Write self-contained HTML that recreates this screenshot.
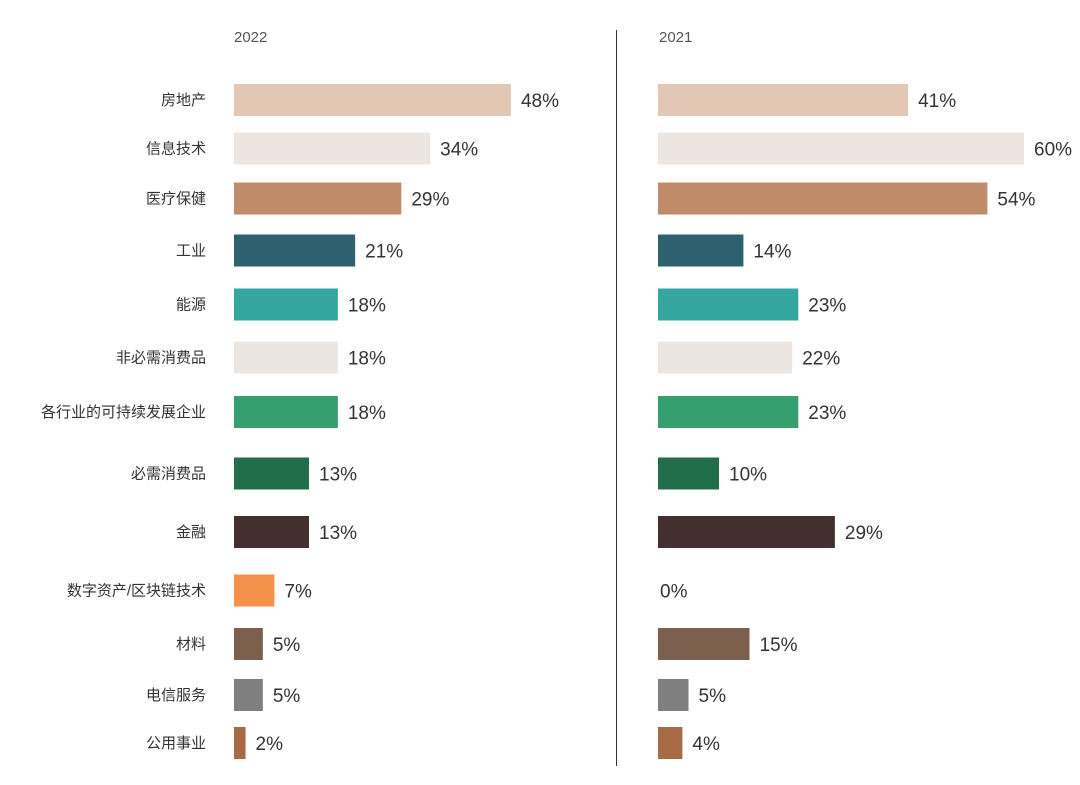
<!DOCTYPE html>
<html><head><meta charset="utf-8">
<style>
html,body{margin:0;padding:0;background:#fff;}
svg{display:block;font-family:"Liberation Sans","Noto Sans CJK SC",sans-serif;}
</style></head>
<body>
<svg id="chart" width="1080" height="785" viewBox="0 0 1080 785" xmlns="http://www.w3.org/2000/svg">
<text x="234" y="42" font-size="15" fill="#555">2022</text>
<text x="659" y="42" font-size="15" fill="#555">2021</text>
<line x1="616.5" y1="30" x2="616.5" y2="766" stroke="#333" stroke-width="1"/>
<g id="bars"></g>
</svg>
<script>
const categories = ["房地产","信息技术","医疗保健","工业","能源","非必需消费品","各行业的可持续发展企业","必需消费品","金融","数字资产/区块链技术","材料","电信服务","公用事业"];
const values2022 = [48,34,29,21,18,18,18,13,13,7,5,5,2];
const values2021 = [41,60,54,14,23,22,23,10,29,0,15,5,4];
const colors = ["#e2c7b5","#ede5e0","#bf8b69","#2e6170","#35a59f","#ede5e0","#35a06e","#236e4a","#44302f","#f5924a","#7c604d","#7f7f7f","#a76a45"];
// layout: row centers (pixels)
const rowY = [100,148.5,198.5,250.5,304.5,357.5,412,473.5,532,590.5,644,695,743];
const barH = 32;
const x2022 = v => 234 + v * 5.77;
const x2021 = v => 658 + v * 6.1;
const ns = "http://www.w3.org/2000/svg";
const g = document.getElementById("bars");
function mk(tag, attrs){const e=document.createElementNS(ns,tag);for(const k in attrs)e.setAttribute(k,attrs[k]);return e;}
categories.forEach((c,i)=>{
  const y = rowY[i];
  const lab = mk("text",{x:206,y:y+5,"font-size":15,fill:"#333","text-anchor":"end"});
  lab.textContent = c;
  
  
  g.appendChild(lab);
  [[values2022,x2022,234,"2022"],[values2021,x2021,658,"2021"]].forEach(([vals,sx,x0,yr])=>{
    const v = vals[i];
    const xe = sx(v);
    if(v>0){
      const r = mk("rect",{x:x0,y:y-barH/2,width:xe-x0,height:barH,fill:colors[i]});
      
      
      g.appendChild(r);
    }
    const t = mk("text",{x:v>0?xe+10:x0+2,y:y+7,"font-size":19,fill:"#333"});
    t.textContent = v+"%";
    
    
    g.appendChild(t);
  });
});
</script>
</body></html>
